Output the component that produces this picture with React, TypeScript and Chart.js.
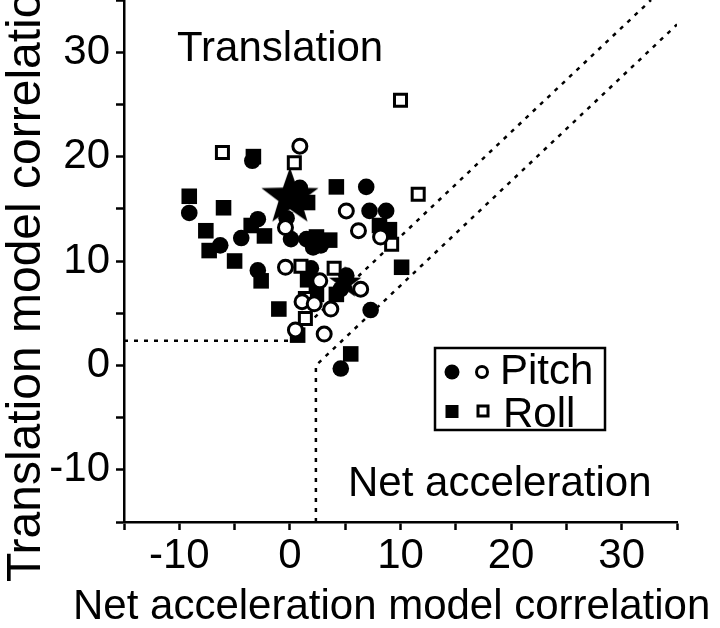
import React, { useEffect, useRef } from 'react';
import { Chart, registerables } from 'chart.js';

Chart.register(...registerables);

const FONT = '"Liberation Sans", Arial, Helvetica, sans-serif';

// Axis ranges and tick labels
const xRange: [number, number] = [-15, 35];
const yRange: [number, number] = [-15, 35];
const tickStep = 5;
const labelledTicks = [-10, 0, 10, 20, 30];

// Pitch (circles)
const pitchFilled: [number, number][] = [
  [-9.1, 14.6], [-6.3, 11.5], [-4.4, 12.2], [-3.4, 19.6], [-2.9, 14.0],
  [-2.9, 9.1], [-0.3, 14.1], [0.1, 12.1], [0.9, 17.0], [1.5, 12.1],
  [2.1, 11.3], [2.8, 11.5], [1.9, 9.3], [5.1, 8.6], [4.6, 7.3],
  [6.9, 17.1], [7.2, 14.8], [8.7, 14.8], [7.3, 5.3], [4.6, -0.3],
];
const pitchOpen: [number, number][] = [
  [0.9, 21.0], [-0.4, 13.2], [-0.4, 9.4], [5.1, 14.8], [6.2, 12.9],
  [8.2, 12.3], [2.7, 8.1], [6.4, 7.3], [1.1, 6.1], [2.2, 5.9],
  [3.7, 5.4], [0.5, 3.4], [3.1, 3.0],
];

// Roll (squares)
const rollFilled: [number, number][] = [
  [-9.1, 16.2], [-6.0, 15.1], [-7.6, 12.9], [-7.3, 11.0], [-5.0, 10.0],
  [-3.3, 20.0], [-3.5, 13.4], [-2.3, 12.4], [-2.6, 8.1], [-1.0, 5.4],
  [4.2, 17.1], [1.6, 15.6], [2.4, 12.3], [3.6, 12.0], [1.6, 8.2],
  [2.4, 6.8], [4.2, 6.8], [8.1, 13.4], [9.0, 13.0], [10.1, 9.4],
  [0.7, 2.9], [5.5, 1.1],
];
const rollOpen: [number, number][] = [
  [-6.1, 20.4], [0.4, 19.4], [10.0, 25.4], [11.6, 16.4], [9.2, 11.6],
  [1.0, 9.5], [4.0, 9.3], [1.4, 6.4], [1.4, 4.5],
];

// Population means (stars)
const bigStar: [number, number][] = [[0.0, 16.1]];
const smallStar: [number, number][] = [[5.0, 7.9]];

// Significance boundaries (dotted)
const upperBoundary: [number, number][] = [[-15, 2.35], [0, 2.35], [32.65, 35]];
const lowerBoundary: [number, number][] = [[2.35, -15], [2.35, 0], [35, 32.65]];

const toPts = (a: [number, number][]) => a.map(([x, y]) => ({ x, y }));

function makeStar(R: number): HTMLCanvasElement {
  const c = document.createElement('canvas');
  const s = Math.ceil(R * 2 + 2);
  c.width = s;
  c.height = s;
  const ctx = c.getContext('2d')!;
  ctx.fillStyle = '#000';
  ctx.beginPath();
  const cx = s / 2;
  const cy = s / 2;
  const r = R * 0.4;
  for (let i = 0; i < 10; i++) {
    const ang = -Math.PI / 2 + (i * Math.PI) / 5;
    const rad = i % 2 === 0 ? R : r;
    ctx.lineTo(cx + rad * Math.cos(ang), cy + rad * Math.sin(ang));
  }
  ctx.closePath();
  ctx.fill();
  return c;
}

const annotations = {
  id: 'annotations',
  afterDraw(chart: any) {
    const ctx: CanvasRenderingContext2D = chart.ctx;
    ctx.save();
    ctx.fillStyle = '#000';
    ctx.strokeStyle = '#000';
    ctx.textAlign = 'left';
    ctx.textBaseline = 'alphabetic';
    ctx.font = `42px ${FONT}`;
    ctx.fillText('Translation', 177, 61);
    ctx.fillText('Net acceleration', 348, 496);
    ctx.fillText('Net acceleration model correlation', 73, 619);

    ctx.save();
    ctx.translate(40, 582);
    ctx.rotate(-Math.PI / 2);
    ctx.font = `48px ${FONT}`;
    ctx.fillText('Translation model correlation', 0, 0);
    ctx.restore();

    // legend
    ctx.lineWidth = 2.5;
    ctx.strokeRect(435, 348, 170, 82);
    ctx.beginPath();
    ctx.arc(452, 372, 7.5, 0, Math.PI * 2);
    ctx.fill();
    ctx.lineWidth = 3;
    ctx.beginPath();
    ctx.arc(482, 372, 5.5, 0, Math.PI * 2);
    ctx.stroke();
    ctx.fillRect(445.5, 405, 13, 13);
    ctx.strokeRect(478, 406, 10, 10);
    ctx.font = `42px ${FONT}`;
    ctx.fillText('Pitch', 500, 384);
    ctx.fillText('Roll', 503, 427);
    ctx.restore();
  },
};

function App() {
  const ref = useRef<HTMLCanvasElement>(null);

  useEffect(() => {
    document.body.style.margin = '0';
    const canvas = ref.current!;
    const tickFont = (c: any) =>
      c && c.tick && labelledTicks.includes(Number(c.tick.value))
        ? { family: FONT, size: 42 }
        : { family: FONT, size: 42, lineHeight: 0 };
    const lineDs = (pts: [number, number][]) => ({
      type: 'line' as const,
      data: toPts(pts),
      borderColor: '#000',
      borderWidth: 2.5,
      borderDash: [4, 6],
      pointRadius: 0,
      fill: false,
      showLine: true,
      order: 5,
    });
    const chart = new Chart(canvas, {
      type: 'scatter',
      data: {
        datasets: [
          lineDs(upperBoundary),
          lineDs(lowerBoundary),
          {
            label: 'Pitch filled',
            data: toPts(pitchFilled),
            pointStyle: 'circle',
            pointRadius: 8.3,
            backgroundColor: '#000',
            borderColor: '#000',
            borderWidth: 0,
            order: 4,
          },
          {
            label: 'Roll filled',
            data: toPts(rollFilled),
            pointStyle: 'rect',
            pointRadius: 11,
            backgroundColor: '#000',
            borderColor: '#000',
            borderWidth: 0,
            order: 4,
          },
          {
            label: 'Mean',
            data: toPts(bigStar),
            pointStyle: makeStar(30),
            pointRadius: 30,
            order: 3,
          },
          {
            label: 'Mean roll',
            data: toPts(smallStar),
            pointStyle: makeStar(17),
            pointRadius: 17,
            order: 3,
          },
          {
            label: 'Pitch open',
            data: toPts(pitchOpen),
            pointStyle: 'circle',
            pointRadius: 7,
            backgroundColor: '#fff',
            borderColor: '#000',
            borderWidth: 3,
            order: 1,
          },
          {
            label: 'Roll open',
            data: toPts(rollOpen),
            pointStyle: 'rect',
            pointRadius: 8.5,
            backgroundColor: '#fff',
            borderColor: '#000',
            borderWidth: 3,
            order: 1,
          },
        ] as any,
      },
      options: {
        animation: false,
        responsive: false,
        devicePixelRatio: 1,
        layout: { autoPadding: false, padding: { left: 0, right: 43, top: 0, bottom: 0 } },
        plugins: { legend: { display: false }, tooltip: { enabled: false } },
        scales: {
          x: {
            type: 'linear',
            min: xRange[0],
            max: xRange[1],
            position: 'bottom',
            ticks: {
              stepSize: tickStep,
              autoSkip: false,
              maxRotation: 0,
              padding: 1,
              color: '#000',
              font: tickFont,
              callback: (v: any) => (labelledTicks.includes(Number(v)) ? String(v) : ''),
            },
            grid: { drawOnChartArea: false, drawTicks: true, tickLength: 8, tickColor: '#000', tickWidth: 2.5 },
            border: { display: true, color: '#000', width: 2.5 },
            afterFit: (s: any) => {
              s.height = 106;
              s.paddingLeft = 0;
              s.paddingRight = 0;
            },
          },
          y: {
            type: 'linear',
            min: yRange[0],
            max: yRange[1],
            position: 'left',
            ticks: {
              stepSize: tickStep,
              autoSkip: false,
              padding: 6,
              color: '#000',
              font: tickFont,
              callback: (v: any) => (labelledTicks.includes(Number(v)) ? String(v) : ''),
            },
            grid: { drawOnChartArea: false, drawTicks: true, tickLength: 8, tickColor: '#000', tickWidth: 2.5 },
            border: { display: true, color: '#000', width: 2.5 },
            afterFit: (s: any) => {
              s.width = 124;
              s.paddingTop = 0;
              s.paddingBottom = 0;
            },
          },
        },
      } as any,
      plugins: [annotations],
    });
    return () => chart.destroy();
  }, []);

  return (
    <div style={{ width: 720, height: 628, background: '#fff' }}>
      <canvas ref={ref} width={720} height={628} style={{ display: 'block' }} />
    </div>
  );
}

export default App;
